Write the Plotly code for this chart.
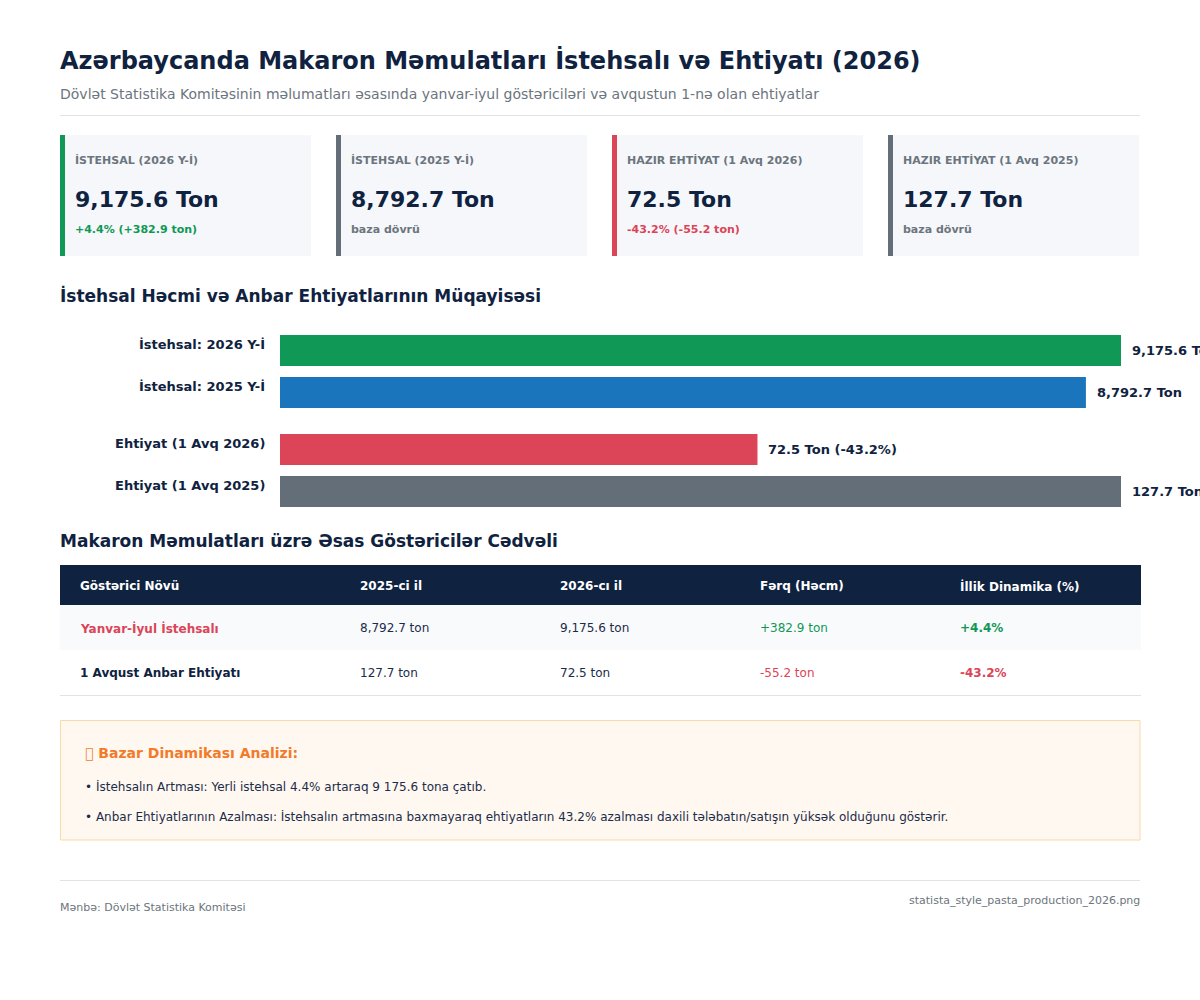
from __future__ import annotations

import plotly.graph_objects as go

# chart values
production_labels = ["İstehsal: 2026 Y-İ", "İstehsal: 2025 Y-İ"]
production_values = [9175.6, 8792.7]
production_texts = ["9,175.6 Ton", "8,792.7 Ton"]
production_colors = ["#109856", "#1A75BC"]

stock_labels = ["Ehtiyat (1 Avq 2026)", "Ehtiyat (1 Avq 2025)"]
stock_values = [72.5, 127.7]
stock_texts = ["72.5 Ton (-43.2%)", "127.7 Ton"]
stock_colors = ["#DC4457", "#636E78"]

# KPI cards
card_titles = [
    "İSTEHSAL (2026 Y-İ)",
    "İSTEHSAL (2025 Y-İ)",
    "HAZIR EHTİYAT (1 Avq 2026)",
    "HAZIR EHTİYAT (1 Avq 2025)",
]
card_values = ["9,175.6 Ton", "8,792.7 Ton", "72.5 Ton", "127.7 Ton"]
card_notes = ["+4.4% (+382.9 ton)", "baza dövrü", "-43.2% (-55.2 ton)", "baza dövrü"]

# table
table_header = ["Göstərici Növü", "2025-ci il", "2026-cı il", "Fərq (Həcm)", "İllik Dinamika (%)"]
table_row_names = ["Yanvar-İyul İstehsalı", "1 Avqust Anbar Ehtiyatı"]
table_2025 = ["8,792.7 ton", "127.7 ton"]
table_2026 = ["9,175.6 ton", "72.5 ton"]
table_diff = ["+382.9 ton", "-55.2 ton"]
table_pct = ["+4.4%", "-43.2%"]

TITLE = "Azərbaycanda Makaron Məmulatları İstehsalı və Ehtiyatı (2026)"
SUBTITLE = "Dövlət Statistika Komitəsinin məlumatları əsasında yanvar-iyul göstəriciləri və avqustun 1-nə olan ehtiyatlar"
BARS_HEADING = "İstehsal Həcmi və Anbar Ehtiyatlarının Müqayisəsi"
TABLE_HEADING = "Makaron Məmulatları üzrə Əsas Göstəricilər Cədvəli"
# the reference shows a missing-glyph box in front of this heading
NOTE_TITLE = "\ue000 Bazar Dinamikası Analizi:"
NOTE_LINES = [
    "• İstehsalın Artması: Yerli istehsal 4.4% artaraq 9 175.6 tona çatıb.",
    "• Anbar Ehtiyatlarının Azalması: İstehsalın artmasına baxmayaraq ehtiyatların 43.2% azalması daxili tələbatın/satışın yüksək olduğunu göstərir.",
]
SOURCE = "Mənbə: Dövlət Statistika Komitəsi"
FILE_NAME = "statista_style_pasta_production_2026.png"

W, H = 1200, 1000
NAVY = "#0F2240"
BODY = "#1B2C4A"
GREY = "#6C757D"
GREEN = "#109856"
RED = "#DC4457"
SLATE = "#636E78"
ORANGE = "#F37A28"
RULE = "#E1E3E6"


def fx(px_x: float) -> float:
    return px_x / W


def fy(px_y: float) -> float:
    return 1 - px_y / H


def add_text(fig, x, y, text, size, color=NAVY, bold=False, anchor="left"):
    fig.add_annotation(
        x=fx(x), y=fy(y), xref="paper", yref="paper",
        text=f"<b>{text}</b>" if bold else text,
        showarrow=False, xanchor=anchor, yanchor="middle",
        borderpad=0, borderwidth=0,
        font=dict(size=size, color=color),
    )


def add_box(fig, x0, y0, x1, y1, fill, line=None):
    fig.add_shape(
        type="rect", xref="paper", yref="paper", layer="below",
        x0=fx(x0), x1=fx(x1), y0=fy(y0), y1=fy(y1),
        fillcolor=fill,
        line=dict(color=line, width=1) if line else dict(width=0),
    )


def add_rule(fig, x0, x1, y):
    fig.add_shape(
        type="line", xref="paper", yref="paper", layer="below",
        x0=fx(x0), x1=fx(x1), y0=fy(y), y1=fy(y),
        line=dict(color=RULE, width=1),
    )


def add_bars(fig, labels, values, texts, colors, xaxis, yaxis):
    fig.add_trace(go.Bar(
        x=values, y=labels, orientation="h", width=0.738,
        marker=dict(color=colors, line=dict(width=0)),
        xaxis=xaxis, yaxis=yaxis, showlegend=False, hoverinfo="x+y",
    ))
    for label, value, text in zip(labels, values, texts):
        fig.add_annotation(
            x=value, y=label, xref=xaxis, yref=yaxis,
            text=f"<b>{text}</b>", showarrow=False,
            xanchor="left", yanchor="middle", xshift=10, borderpad=0,
            font=dict(size=13, color=NAVY),
        )
        # category captions sit a little above the bar centre
        fig.add_annotation(
            x=0, y=label, xref=xaxis, yref=yaxis,
            text=f"<b>{label}</b>", showarrow=False,
            xanchor="right", yanchor="middle", xshift=-14, yshift=6, borderpad=0,
            font=dict(size=13, color=NAVY),
        )


def create_figure() -> go.Figure:
    fig = go.Figure()

    add_bars(fig, production_labels, production_values, production_texts, production_colors, "x", "y")
    add_bars(fig, stock_labels, stock_values, stock_texts, stock_colors, "x2", "y2")

    hidden = dict(visible=False, fixedrange=True)
    fig.update_layout(
        width=W, height=H,
        margin=dict(l=0, r=0, t=0, b=0),
        paper_bgcolor="white", plot_bgcolor="rgba(0,0,0,0)",
        font=dict(family="DejaVu Sans", color=NAVY),
        xaxis=dict(domain=[fx(280), fx(1121)], range=[0, max(production_values)], **hidden),
        yaxis=dict(domain=[fy(413.5), fy(329.5)], range=[1.5, -0.5], type="category", **hidden),
        xaxis2=dict(domain=[fx(280), fx(1121)], range=[0, max(stock_values)], anchor="y2", **hidden),
        yaxis2=dict(domain=[fy(512.5), fy(428.5)], range=[1.5, -0.5], type="category", anchor="x2", **hidden),
    )

    # header
    add_text(fig, 60, 60, TITLE, 24, bold=True)
    add_text(fig, 60, 94, SUBTITLE, 14, color=GREY)
    add_rule(fig, 60, 1140, 115.5)

    # KPI cards
    card_lefts = [60, 336, 612, 888]
    card_accents = [GREEN, SLATE, RED, SLATE]
    note_colors = [GREEN, GREY, RED, GREY]
    for i, left in enumerate(card_lefts):
        add_box(fig, left, 135, left + 251, 256, "#F5F7FB")
        add_box(fig, left, 135, left + 5, 256, card_accents[i])
        add_text(fig, left + 15, 160, card_titles[i], 11, color=GREY, bold=True)
        add_text(fig, left + 15, 199, card_values[i], 22, bold=True)
        add_text(fig, left + 15, 230, card_notes[i], 11, color=note_colors[i], bold=True)

    # section headings
    add_text(fig, 60, 295.5, BARS_HEADING, 17, bold=True)
    add_text(fig, 60, 540.5, TABLE_HEADING, 17, bold=True)

    # table
    col_x = [80, 360, 560, 760, 960]
    add_box(fig, 60, 565, 1141, 605, NAVY)
    add_box(fig, 60, 605, 1141, 650, "#F9FAFC")
    add_rule(fig, 60, 1141, 695.5)
    for x, text in zip(col_x, table_header):
        add_text(fig, x, 586, text, 12, color="white", bold=True)

    row_y = [628, 673]
    name_colors = [RED, NAVY]
    pct_colors = [GREEN, RED]
    for i, y in enumerate(row_y):
        add_text(fig, col_x[0], y, table_row_names[i], 12, color=name_colors[i], bold=True)
        add_text(fig, col_x[1], y, table_2025[i], 12, color=BODY)
        add_text(fig, col_x[2], y, table_2026[i], 12, color=BODY)
        add_text(fig, col_x[3], y, table_diff[i], 12, color=pct_colors[i])
        add_text(fig, col_x[4], y, table_pct[i], 12, color=pct_colors[i], bold=True)

    # analysis note
    add_box(fig, 60.5, 720.5, 1140, 840, "#FFF8F1", line="#FBD9A9")
    add_text(fig, 85, 753, NOTE_TITLE, 14, color=ORANGE, bold=True)
    add_text(fig, 85, 786, NOTE_LINES[0], 12, color=BODY)
    add_text(fig, 85, 816, NOTE_LINES[1], 12, color=BODY)

    # footer
    add_rule(fig, 60, 1140, 880.5)
    add_text(fig, 60, 907, SOURCE, 11, color=GREY)
    add_text(fig, 1140, 900, FILE_NAME, 11, color=GREY, anchor="right")

    return fig


fig = create_figure()
fig.write_html(
    "out.html",
    config={"displayModeBar": False},
    post_script="document.body.style.margin='0';",
)
